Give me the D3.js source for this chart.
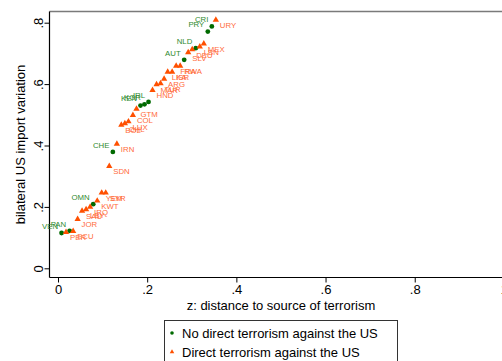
<!DOCTYPE html>
<html>
<head>
<meta charset="utf-8">
<script src="https://cdn.jsdelivr.net/npm/d3@7"></script>
<style>
  html, body { margin: 0; padding: 0; background: #fff; }
  svg { display: block; font-family: "Liberation Sans", Arial, sans-serif; }
</style>
</head>
<body>
<svg id="chart" width="502" height="361"></svg>
<script>
// Countries with no direct terrorism against the US
const noDirectCodes = ["CRI", "PRY", "NLD", "AUT", "IRL", "KOR", "KEN", "CHE", "OMN", "PAN", "VEN"];
const noDirectZ     = [0.345, 0.336, 0.309, 0.283, 0.203, 0.194, 0.185, 0.123, 0.079, 0.026, 0.008];
const noDirectVar   = [0.788, 0.771, 0.717, 0.679, 0.542, 0.534, 0.530, 0.379, 0.209, 0.122, 0.115];

// Countries with direct terrorism against the US
const directCodes = ["URY", "MEX", "LBN", "DEU", "SLV", "FRA", "RWA", "LKA", "ISR", "ARG",
                     "MAR", "TUR", "HND", "GTM", "COL", "LUX", "CHL", "BOL", "IRN", "SDN",
                     "YEM", "SYR", "KWT", "IRQ", "LBY", "SAU", "JOR", "PER", "ECU"];
const directZ   = [0.354, 0.327, 0.318, 0.301, 0.292, 0.265, 0.274, 0.246, 0.256, 0.238,
                   0.221, 0.230, 0.212, 0.176, 0.168, 0.158, 0.150, 0.142, 0.132, 0.115,
                   0.098, 0.107, 0.088, 0.072, 0.063, 0.054, 0.044, 0.018, 0.034];
const directVar = [0.809, 0.732, 0.722, 0.713, 0.703, 0.659, 0.659, 0.640, 0.640, 0.617,
                   0.599, 0.602, 0.580, 0.519, 0.499, 0.478, 0.472, 0.467, 0.405, 0.333,
                   0.246, 0.246, 0.220, 0.200, 0.192, 0.187, 0.160, 0.118, 0.121];

const xTicks = [0, 0.2, 0.4, 0.6, 0.8, 1];
const xTickLabels = ["0", ".2", ".4", ".6", ".8", "1"];
const yTicks = [0, 0.2, 0.4, 0.6, 0.8];
const yTickLabels = ["0", ".2", ".4", ".6", ".8"];

const seriesNames = ["No direct terrorism against the US", "Direct terrorism against the US"];
const green = "#006a00", greenText = "#2f8a2f";
const orange = "#ff5000", orangeText = "#ff6a3a";

const svg = d3.select("#chart");
const x = d3.scaleLinear().domain([0, 1]).range([58, 503.9]);
const y = d3.scaleLinear().domain([0, 0.8]).range([268.3, 22.7]);

const axisLeftX = 49.5, axisBottomY = 277.5, plotTop = 11.5;

// top rule of the plot region
svg.append("line")
  .attr("x1", axisLeftX).attr("x2", 502).attr("y1", plotTop).attr("y2", plotTop)
  .attr("stroke", "#7a7a7a").attr("stroke-width", 1.6);

// x axis
const xAxis = svg.append("g").attr("transform", `translate(0,${axisBottomY})`)
  .call(d3.axisBottom(x).tickValues(xTicks).tickFormat((d, i) => xTickLabels[i])
        .tickSize(5).tickPadding(2).tickSizeOuter(0));
xAxis.select(".domain").remove();
xAxis.append("line").attr("x1", axisLeftX).attr("x2", 502).attr("y1", 0).attr("y2", 0)
  .attr("stroke", "#000").attr("stroke-width", 1.2);
xAxis.selectAll("text").attr("font-size", 13).attr("fill", "#000")
  .attr("font-family", "Liberation Sans, Arial, sans-serif");
xAxis.selectAll(".tick line").attr("stroke", "#000");

// y axis
const yAxis = svg.append("g").attr("transform", `translate(${axisLeftX},0)`)
  .call(d3.axisLeft(y).tickValues(yTicks).tickFormat((d, i) => yTickLabels[i])
        .tickSize(5).tickSizeOuter(0));
yAxis.select(".domain").remove();
yAxis.append("line").attr("x1", 0).attr("x2", 0).attr("y1", plotTop).attr("y2", axisBottomY)
  .attr("stroke", "#000").attr("stroke-width", 1.2);
yAxis.selectAll(".tick line").attr("stroke", "#000");
yAxis.selectAll(".tick text")
  .attr("font-size", 13).attr("fill", "#000")
  .attr("font-family", "Liberation Sans, Arial, sans-serif")
  .attr("x", null).attr("dy", null)
  .attr("text-anchor", "middle")
  .attr("transform", "translate(-11,0) rotate(-90)")
  .attr("y", 0).attr("dy", "0.36em");

// axis titles
svg.append("text").attr("x", (x(0) + x(1)) / 2).attr("y", 309.5)
  .attr("text-anchor", "middle").attr("font-size", 13).attr("fill", "#000")
  .text("z: distance to source of terrorism");
svg.append("text")
  .attr("transform", `translate(24.5,${(plotTop + axisBottomY) / 2}) rotate(-90)`)
  .attr("text-anchor", "middle").attr("font-size", 13).attr("fill", "#000")
  .text("bilateral US import variation");

const triangle = d3.symbol().type(d3.symbolTriangle);

// no-direct series: dots labelled at upper left
const noDirect = noDirectCodes.map((c, i) => ({ code: c, z: noDirectZ[i], v: noDirectVar[i] }));
const gN = svg.append("g");
gN.selectAll("circle").data(noDirect).join("circle")
  .attr("cx", d => x(d.z)).attr("cy", d => y(d.v)).attr("r", 2.4).attr("fill", green);
gN.selectAll("text").data(noDirect).join("text")
  .attr("x", d => x(d.z) - 3.5).attr("y", d => y(d.v) - 7).attr("dy", "0.35em")
  .attr("text-anchor", "end").attr("font-size", 7.8).attr("fill", greenText)
  .text(d => d.code);

// direct series: triangles labelled at lower right
const direct = directCodes.map((c, i) => ({ code: c, z: directZ[i], v: directVar[i] }));
const gD = svg.append("g");
gD.selectAll("path").data(direct).join("path")
  .attr("transform", d => `translate(${x(d.z)},${y(d.v)})`)
  .attr("d", triangle.size(17)()).attr("fill", orange);
gD.selectAll("text").data(direct).join("text")
  .attr("x", d => x(d.z) + 4).attr("y", d => y(d.v) + 5.5).attr("dy", "0.35em")
  .attr("text-anchor", "start").attr("font-size", 7.8).attr("fill", orangeText)
  .text(d => d.code);

// legend
const lg = svg.append("g");
lg.append("rect").attr("x", 164.5).attr("y", 320.5).attr("width", 233).attr("height", 50)
  .attr("fill", "#fff").attr("stroke", "#333").attr("stroke-width", 1);
lg.append("circle").attr("cx", 172).attr("cy", 333).attr("r", 1.8).attr("fill", green);
lg.append("path").attr("transform", "translate(172,352)")
  .attr("d", d3.symbol().type(d3.symbolTriangle).size(9)()).attr("fill", orange);
lg.selectAll("text.lab").data(seriesNames).join("text").attr("class", "lab")
  .attr("x", 182).attr("y", (d, i) => 333 + i * 19).attr("dy", "0.36em")
  .attr("font-size", 13).attr("fill", "#000").text(d => d);
</script>
</body>
</html>
